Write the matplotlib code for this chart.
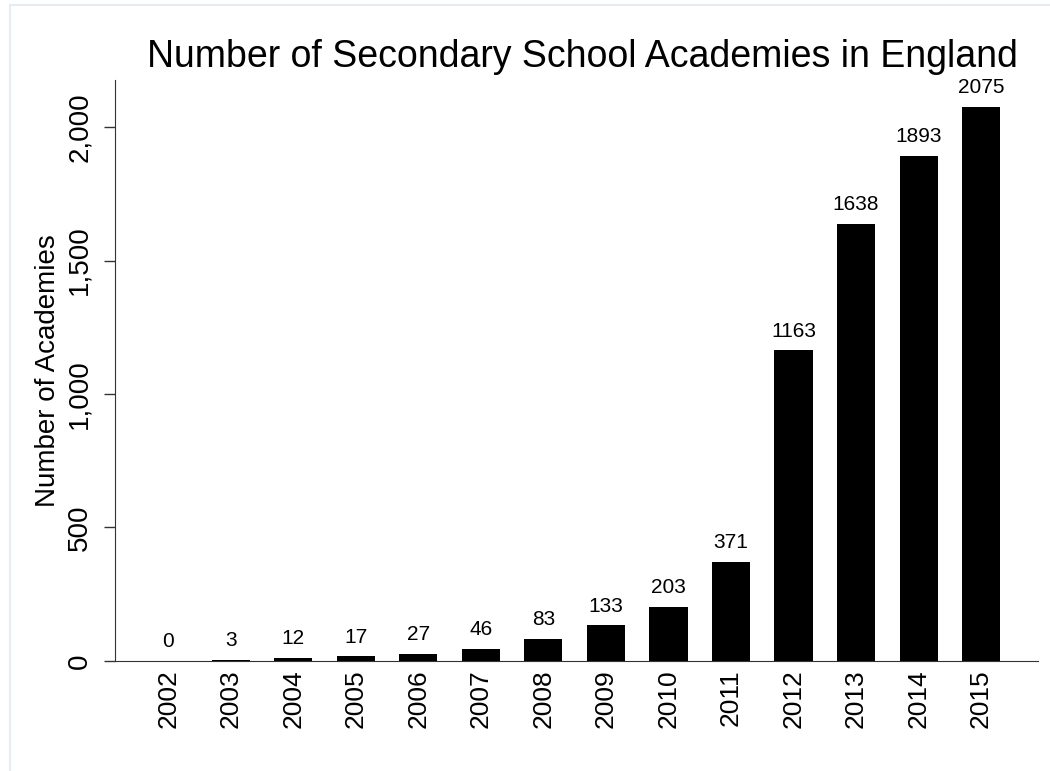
import matplotlib.pyplot as plt
from matplotlib.lines import Line2D
from matplotlib.ticker import FuncFormatter

plt.rcParams['font.family'] = ['Liberation Sans', 'DejaVu Sans']

years = [2002, 2003, 2004, 2005, 2006, 2007, 2008, 2009, 2010, 2011, 2012, 2013, 2014, 2015]
academies = [0, 3, 12, 17, 27, 46, 83, 133, 203, 371, 1163, 1638, 1893, 2075]
yticks = [0, 500, 1000, 1500, 2000]

fig = plt.figure(figsize=(10.5, 7.71), dpi=100)
ax = fig.add_axes([0.1095, 0.1427, 0.8791, 0.7535])

bars = ax.bar(years, academies, width=0.61, color='black')
for x, v in zip(years, academies):
    ax.annotate(str(v), (x, v), xytext=(0, 7), textcoords='offset points',
                ha='center', va='bottom', fontsize=15)

ax.set_xlim(2001.15, 2015.91)
ax.set_ylim(0, 2176)
ax.set_xticks(years)
ax.set_xticklabels([str(y) for y in years], rotation=90, fontsize=19)
ax.set_yticks(yticks)
ax.yaxis.set_major_formatter(FuncFormatter(lambda v, p: f"{int(v):,}"))
for lab in ax.get_yticklabels():
    lab.set_rotation(90)
    lab.set_va('center')
ax.tick_params(axis='y', labelsize=20, length=8, width=1, color='#333333', pad=8)
ax.tick_params(axis='x', length=0, pad=6)
ax.spines['top'].set_visible(False)
ax.spines['right'].set_visible(False)
ax.spines['left'].set_color('#333333')
ax.spines['bottom'].set_color('#333333')
ax.set_ylabel('Number of Academies', fontsize=20, labelpad=4)
fig.text(0.5548, 0.926, 'Number of Secondary School Academies in England',
         ha='center', va='center', fontsize=27)

# faint outer frame
fig.add_artist(Line2D([10/1050, 1], [1 - 5/771, 1 - 5/771], color='#e6edf2', lw=1.5))
fig.add_artist(Line2D([10/1050, 10/1050], [0, 1 - 5/771], color='#e6edf2', lw=1.5))

fig.savefig('out.png', dpi=100)
